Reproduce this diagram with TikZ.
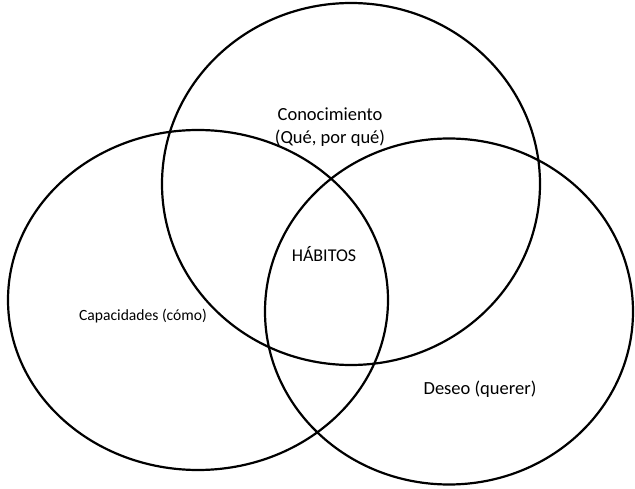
\documentclass[tikz,border=0pt]{standalone}
\usepackage{fontspec}
\setmainfont{Carlito}
\begin{document}
\begin{tikzpicture}[x=1pt,y=-1pt,
  venn/.style={draw=black,line width=2.2pt},
  lbl/.style={inner sep=0pt,align=center,text=black}]
\useasboundingbox (0,0) rectangle (635,489);
\draw[venn] (351,184) ellipse [x radius=189,y radius=181];
\draw[venn] (198,300) ellipse [x radius=190,y radius=170];
\draw[venn] (449,311.5) ellipse [x radius=184,y radius=173];
\node[lbl,font=\fontsize{18.5}{23}\selectfont] (know) at (330,127) {Conocimiento\\(Qué, por qué)};
\node[lbl,font=\fontsize{18}{22}\selectfont] (hab) at (324,254) {HÁBITOS};
\node[lbl,font=\fontsize{15.6}{19}\selectfont] (cap) at (143,316) {Capacidades (cómo)};
\node[lbl,font=\fontsize{18.5}{22}\selectfont] (des) at (480,389) {Deseo (querer)};
\end{tikzpicture}
\end{document}
